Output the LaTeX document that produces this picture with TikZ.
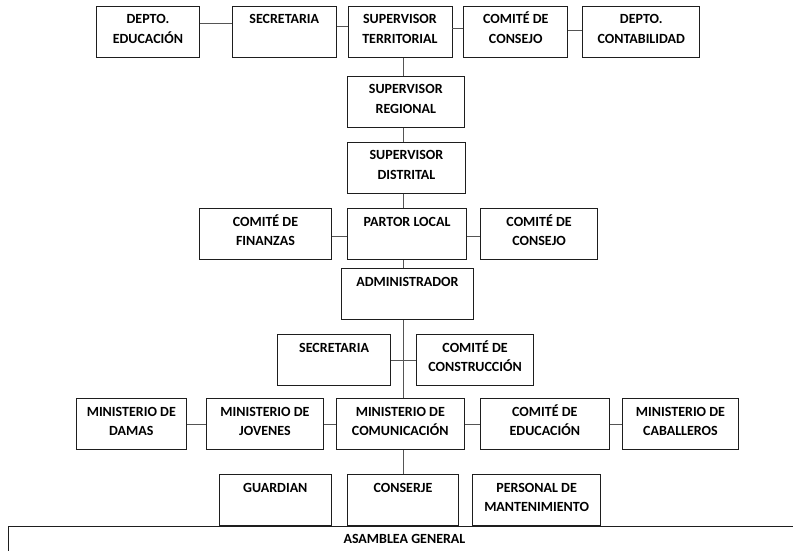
\documentclass[tikz,border=0pt]{standalone}
\usepackage{fontspec}
\setmainfont{Carlito}
\definecolor{boxBlack}{RGB}{30, 30, 30}
\definecolor{linkGray}{RGB}{85, 85, 85}
\def\picW{793}
\def\picH{550}
\newcommand{\boxText}[1]{\begin{tabular}[t]{@{}c@{}}#1\end{tabular}}
\tikzset{
    orgBox/.style={
        rectangle,
        draw=boxBlack,
        line width=0.9pt,
        fill=white,
        anchor=north west,
        inner ysep=0pt,
        text height=17.8pt,
        text depth=33.2pt,
        font=\fontsize{14}{19.3}\selectfont\bfseries
    },
    orgLink/.style={
        draw=linkGray,
        line width=0.9pt
    }
}
\begin{document}
\begin{tikzpicture}[x=1pt, y=-1pt]
    \useasboundingbox (0,0) rectangle (\picW, \picH);
    \fill[white] (0,0) rectangle (\picW, \picH);
    \clip (0,0) rectangle (\picW, \picH);
    \coordinate (spine) at (403.3, 0);

    % Supervisors
    \node[orgBox, minimum width=103.6] (edu) at (95.7, 5.7) {\boxText{DEPTO.\\EDUCACIÓN}};
    \node[orgBox, minimum width=104.3] (sec1) at (231.7, 5.7) {SECRETARIA};
    \node[orgBox, minimum width=104] (supT) at (347.5, 5.7) {\boxText{SUPERVISOR\\TERRITORIAL}};
    \node[orgBox, minimum width=104] (comC1) at (463.3, 5.7) {\boxText{COMITÉ DE\\CONSEJO}};
    \node[orgBox, minimum width=117] (cont) at (582.3, 5.7) {\boxText{DEPTO.\\CONTABILIDAD}};
    \node[orgBox, minimum width=117.3] (supR) at (346.7, 75.7) {\boxText{SUPERVISOR\\REGIONAL}};
    \node[orgBox, minimum width=118] (supD) at (347, 141.7) {\boxText{SUPERVISOR\\DISTRITAL}};

    % Local church
    \node[orgBox, minimum width=132] (fin) at (199, 208.3) {\boxText{COMITÉ DE\\FINANZAS}};
    \node[orgBox, minimum width=118.7] (pastor) at (347.3, 208.3) {PARTOR LOCAL};
    \node[orgBox, minimum width=117.3] (comC2) at (480, 208.3) {\boxText{COMITÉ DE\\CONSEJO}};
    \node[orgBox, minimum width=132.6] (adm) at (340.7, 268.3) {ADMINISTRADOR};
    \node[orgBox, minimum width=112.7] (sec2) at (277.3, 334.3) {SECRETARIA};
    \node[orgBox, minimum width=117.3] (cons) at (416, 334.3) {\boxText{COMITÉ DE\\CONSTRUCCIÓN}};

    % Ministries
    \node[orgBox, minimum width=110.3] (damas) at (75.7, 398) {\boxText{MINISTERIO DE\\DAMAS}};
    \node[orgBox, minimum width=117.6] (jov) at (205.7, 398) {\boxText{MINISTERIO DE\\JOVENES}};
    \node[orgBox, minimum width=128.3] (com) at (335.7, 398) {\boxText{MINISTERIO DE\\COMUNICACIÓN}};
    \node[orgBox, minimum width=128.7] (edc) at (480, 398) {\boxText{COMITÉ DE\\EDUCACIÓN}};
    \node[orgBox, minimum width=116.6] (cab) at (621.7, 398) {\boxText{MINISTERIO DE\\CABALLEROS}};

    % Staff
    \node[orgBox, minimum width=111.7] (guard) at (219, 474.3) {GUARDIAN};
    \node[orgBox, minimum width=111.6] (conserje) at (346.7, 474.3) {CONSERJE};
    \node[orgBox, minimum width=127.7] (pers) at (472.3, 474.3) {\boxText{PERSONAL DE\\MANTENIMIENTO}};
    \node[orgBox, minimum width=791.4] (asam) at (8.3, 525.5) {ASAMBLEA GENERAL};

    % Links
    \draw[orgLink] ([yshift=7.9pt]edu.east) -- ([yshift=7.9pt]sec1.west);
    \draw[orgLink] ([yshift=5.2pt]sec1.east) -- ([yshift=5.2pt]supT.west);
    \draw[orgLink] ([yshift=3.2pt]supT.east) -- ([yshift=3.2pt]comC1.west);
    \draw[orgLink] ([yshift=1.2pt]comC1.east) -- ([yshift=1.2pt]cont.west);
    \draw[orgLink] (supT.south -| spine) -- (supR.north -| spine);
    \draw[orgLink] (supR.south -| spine) -- (supD.north -| spine);
    \draw[orgLink] (supD.south -| spine) -- (pastor.north -| spine);
    \draw[orgLink] ([yshift=-1.9pt]fin.east) -- ([yshift=-1.9pt]pastor.west);
    \draw[orgLink] ([yshift=-1.9pt]pastor.east) -- ([yshift=-1.9pt]comC2.west);
    \draw[orgLink] (pastor.south -| spine) -- (adm.north -| spine);
    \draw[orgLink] (adm.south -| spine) -- (com.north -| spine);
    \draw[orgLink] (sec2.east) -- (cons.west);
    \draw[orgLink] (damas.east) -- (jov.west);
    \draw[orgLink] (jov.east) -- (com.west);
    \draw[orgLink] (com.east) -- (edc.west);
    \draw[orgLink] (edc.east) -- (cab.west);
    \draw[orgLink] (com.south -| spine) -- (conserje.north -| spine);
\end{tikzpicture}
\end{document}
